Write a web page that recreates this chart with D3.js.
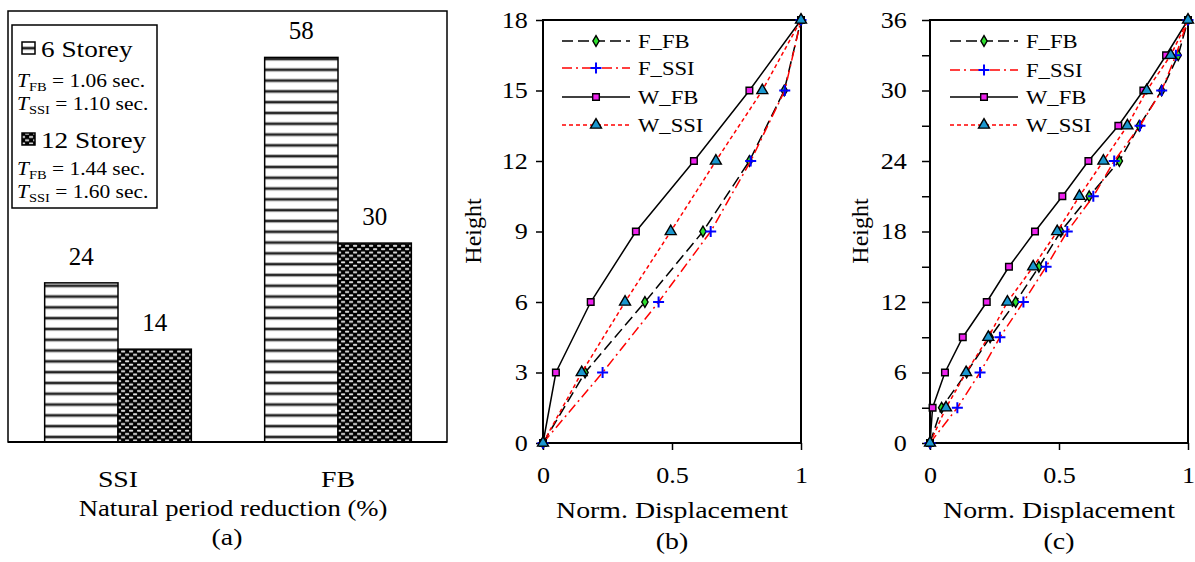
<!DOCTYPE html>
<html>
<head>
<meta charset="utf-8">
<script src="https://cdn.jsdelivr.net/npm/d3@7"></script>
<style>
  body { margin: 0; background: #fff; }
  svg { display: block; }
</style>
</head>
<body>
<svg id="chart" width="1195" height="562"></svg>
<script>
// ---- data ----
const barCategories = ["SSI", "FB"];
const barSeries = ["6 Storey", "12 Storey"];
const reduction6 = [24, 58];
const reduction12 = [14, 30];

const heights6 = [0, 3, 6, 9, 12, 15, 18];
const fFB6  = [0, 0.163, 0.395, 0.62, 0.80, 0.935, 1];
const fSSI6 = [0, 0.231, 0.448, 0.65, 0.805, 0.937, 1];
const wFB6  = [0, 0.05, 0.185, 0.36, 0.585, 0.80, 1];
const wSSI6 = [0, 0.15, 0.318, 0.495, 0.67, 0.85, 1];

const heights12 = [0, 3, 6, 9, 12, 15, 18, 21, 24, 27, 30, 33, 36];
const fFB12  = [0, 0.045, 0.142, 0.233, 0.332, 0.422, 0.507, 0.617, 0.734, 0.811, 0.898, 0.962, 1];
const fSSI12 = [0, 0.106, 0.194, 0.271, 0.362, 0.45, 0.532, 0.633, 0.714, 0.814, 0.898, 0.953, 1];
const wFB12  = [0, 0.01, 0.058, 0.127, 0.22, 0.306, 0.407, 0.513, 0.614, 0.73, 0.827, 0.915, 1];
const wSSI12 = [0, 0.062, 0.14, 0.226, 0.30, 0.40, 0.493, 0.579, 0.672, 0.765, 0.84, 0.933, 1];

const seriesNames = ["F_FB", "F_SSI", "W_FB", "W_SSI"];

const FONT = '"Liberation Serif", "Times New Roman", serif';
const SX = 1.16; // the original text is a bit wide for its height

const svg = d3.select("#chart").style("font-family", FONT);

// text helper, stretched horizontally
function label(g, x, y, size, str, anchor, sx) {
  return g.append("text")
    .attr("transform", `translate(${x},${y}) scale(${sx || SX},1)`)
    .attr("text-anchor", anchor || "start")
    .attr("font-size", size)
    .style("font-family", FONT)
    .text(str);
}

// ---- patterns ----
const defs = svg.append("defs");
const pStripe = defs.append("pattern").attr("id", "stripe").attr("patternUnits", "userSpaceOnUse")
  .attr("width", 8).attr("height", 10.8);
pStripe.append("rect").attr("width", 8).attr("height", 10.8).attr("fill", "#fff");
pStripe.append("rect").attr("y", 3).attr("width", 8).attr("height", 4).attr("fill", "#b0b0b0");
pStripe.append("rect").attr("y", 4).attr("width", 8).attr("height", 2).attr("fill", "#222");

const pDots = defs.append("pattern").attr("id", "dots").attr("patternUnits", "userSpaceOnUse")
  .attr("width", 8).attr("height", 6.6);
pDots.append("rect").attr("width", 8).attr("height", 6.6).attr("fill", "#000");
[[1, 0.6], [5, 3.9], [-3, 3.9]].forEach(([x, y]) => {
  pDots.append("rect").attr("x", x).attr("y", y).attr("width", 4.2).attr("height", 1.9)
    .attr("fill", "#e4e4e4").attr("rx", 0.8);
});

// ---- panel (a) ----
const aLeft = 8, aRight = 447, aTop = 11, aBottom = 442;
const x0 = d3.scaleBand().domain(barCategories).range([aLeft, aRight + 1]);
const x1 = d3.scaleBand().domain(barSeries).range([0, x0.bandwidth()]).paddingOuter(0.5);
const yA = d3.scaleLinear().domain([0, 65]).range([aBottom, aTop]);
const fills = { "6 Storey": "url(#stripe)", "12 Storey": "url(#dots)" };

const barData = [];
barCategories.forEach((c, i) => {
  barData.push({ cat: c, ser: "6 Storey", v: reduction6[i] });
  barData.push({ cat: c, ser: "12 Storey", v: reduction12[i] });
});

const gA = svg.append("g");
gA.selectAll("rect.bar").data(barData).enter().append("rect")
  .attr("class", "bar")
  .attr("x", d => x0(d.cat) + x1(d.ser))
  .attr("width", x1.bandwidth())
  .attr("y", d => yA(d.v))
  .attr("height", d => yA(0) - yA(d.v))
  .attr("fill", d => fills[d.ser])
  .attr("stroke", "#000").attr("stroke-width", 1.5);

barData.forEach(d => {
  label(gA, x0(d.cat) + x1(d.ser) + x1.bandwidth() / 2, yA(d.v) - 18, 25, d.v, "middle", 1);
});

gA.append("rect").attr("x", aLeft).attr("y", aTop).attr("width", aRight - aLeft).attr("height", aBottom - aTop)
  .attr("fill", "none").attr("stroke", "#000").attr("stroke-width", 1.5);
gA.append("line").attr("x1", aLeft).attr("x2", aRight).attr("y1", aBottom).attr("y2", aBottom)
  .attr("stroke", "#000").attr("stroke-width", 2);

barCategories.forEach(c => label(gA, x0(c) + x0.bandwidth() / 2, 487, 24, c, "middle"));
label(gA, 233, 516, 23, "Natural period reduction (%)", "middle");
label(gA, 227, 545, 24, "(a)", "middle");

// legend (a)
const lg = gA.append("g");
lg.append("rect").attr("x", 12).attr("y", 25).attr("width", 145).attr("height", 183)
  .attr("fill", "#fff").attr("stroke", "#000").attr("stroke-width", 1.5);
function periodLine(y, sub, val) {
  const t = label(lg, 17, y, 18.5, null);
  t.append("tspan").attr("font-style", "italic").text("T");
  t.append("tspan").attr("font-size", 12.5).attr("dy", 4).text(sub);
  t.append("tspan").attr("dy", -4).text(" = " + val + " sec.");
}
[[barSeries[0], 42, 57, ["1.06", "1.10"], 87, 110], [barSeries[1], 133, 148, ["1.44", "1.60"], 175, 198]]
  .forEach(([name, sy, ty, vals, y1, y2]) => {
    lg.append("rect").attr("x", 22).attr("y", sy).attr("width", 13).attr("height", 12)
      .attr("fill", fills[name]).attr("stroke", "#000").attr("stroke-width", 1.5);
    label(lg, 41, ty, 23.5, name);
    periodLine(y1, "FB", vals[0]);
    periodLine(y2, "SSI", vals[1]);
  });

// ---- line panels ----
const styles = {
  F_FB:  { stroke: "#000", dash: "11,5", symbol: d3.symbolDiamond, size: 34, fill: "#2ee02e", edge: "#000" },
  F_SSI: { stroke: "#ff0000", dash: "10,4,2,4", symbol: null, fill: "none", edge: "#0000ff" },
  W_FB:  { stroke: "#000", dash: null, symbol: d3.symbolSquare, size: 44, fill: "#ee22ee", edge: "#000" },
  W_SSI: { stroke: "#ff0000", dash: "4,3", symbol: d3.symbolTriangle, size: 52, fill: "#1b97cf", edge: "#000" }
};
const plusPath = "M-5.5,0H5.5M0,-5.5V5.5";

function drawMarker(g, name, x, y) {
  const s = styles[name];
  if (s.symbol) {
    g.append("path").attr("d", d3.symbol().type(s.symbol).size(s.size)())
      .attr("transform", `translate(${x},${y})`)
      .attr("fill", s.fill).attr("stroke", s.edge).attr("stroke-width", 1.4);
  } else {
    g.append("path").attr("d", plusPath).attr("transform", `translate(${x},${y})`)
      .attr("fill", "none").attr("stroke", s.edge).attr("stroke-width", 2);
  }
}

function linePanel(opt) {
  const x = d3.scaleLinear().domain([0, 1]).range([opt.left, opt.right]);
  const y = d3.scaleLinear().domain([0, opt.ymax]).range([443, 20]);
  const g = svg.append("g");

  g.append("rect").attr("x", opt.left).attr("y", 20).attr("width", opt.right - opt.left).attr("height", 423)
    .attr("fill", "none").attr("stroke", "#000").attr("stroke-width", 2);

  const yAxis = d3.axisLeft(y).tickValues(d3.range(0, opt.ymax + 1, 3)).tickSize(opt.tickLen).tickPadding(opt.yPad)
    .tickFormat(d => (d % opt.ylabelStep === 0 ? d : ""));
  const ya = g.append("g").attr("transform", `translate(${opt.left},0)`).call(yAxis);
  const xAxis = d3.axisBottom(x).tickValues([0, 0.5, 1]).tickSize(7).tickPadding(17)
    .tickFormat(d => (d === 0.5 ? "0.5" : d));
  const xa = g.append("g").attr("transform", "translate(0,443)").call(xAxis);
  [ya, xa].forEach(a => {
    a.attr("font-family", null).attr("font-size", null);
    a.select(".domain").remove();
    a.selectAll("line").attr("stroke", "#000").attr("stroke-width", 1.5);
    a.selectAll("text").attr("font-size", 22.5).attr("fill", "#000")
      .style("font-family", FONT)
      .attr("transform", `scale(${SX},1)`);
  });

  const line = d3.line().x(d => x(d[0])).y(d => y(d[1]));
  opt.series.forEach((vals, i) => {
    const name = seriesNames[i];
    const s = styles[name];
    const pts = vals.map((v, j) => [v, opt.heights[j]]);
    g.append("path").datum(pts).attr("d", line).attr("fill", "none")
      .attr("stroke", s.stroke).attr("stroke-width", 1.5)
      .attr("stroke-dasharray", s.dash);
    pts.forEach(p => drawMarker(g, name, x(p[0]), y(p[1])));
  });

  // legend
  opt.legendY.forEach((ly, i) => {
    const name = seriesNames[i];
    const s = styles[name];
    g.append("line").attr("x1", opt.legX).attr("x2", opt.legX + 68).attr("y1", ly).attr("y2", ly)
      .attr("stroke", s.stroke).attr("stroke-width", 1.5).attr("stroke-dasharray", s.dash);
    drawMarker(g, name, opt.legX + 34, ly);
    label(g, opt.legX + 76, ly + 7, 19.5, name);
  });

  g.append("text").attr("transform", `translate(${opt.left - 62},231) rotate(-90)`)
    .attr("text-anchor", "middle").attr("font-size", 24).style("font-family", FONT).text("Height");
  label(g, (opt.left + opt.right) / 2, 518, 24, "Norm. Displacement", "middle");
  label(g, (opt.left + opt.right) / 2, 549, 24, opt.tag, "middle");
}

linePanel({
  left: 543, right: 801, ymax: 18, ylabelStep: 3, heights: heights6, tickLen: 7, yPad: 6,
  series: [fFB6, fSSI6, wFB6, wSSI6], legX: 562, legendY: [41, 68, 97, 125], tag: "(b)"
});
linePanel({
  left: 930, right: 1188, ymax: 36, ylabelStep: 6, heights: heights12, tickLen: 8, yPad: 12,
  series: [fFB12, fSSI12, wFB12, wSSI12], legX: 950, legendY: [41, 70, 97, 125], tag: "(c)"
});
</script>
</body>
</html>
